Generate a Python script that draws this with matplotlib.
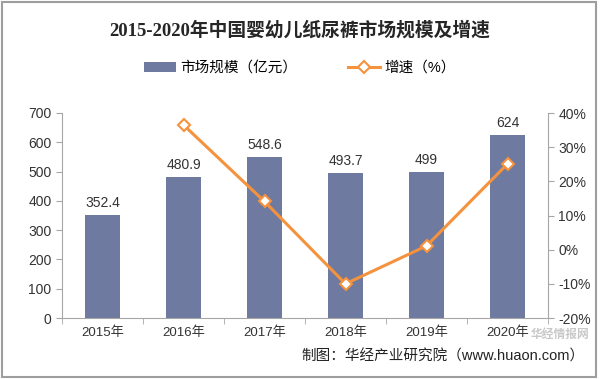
import matplotlib.pyplot as plt
import numpy as np

# данные
years = ['2015年', '2016年', '2017年', '2018年', '2019年', '2020年']
scale = [352.4, 480.9, 548.6, 493.7, 499, 624]
growth = [np.nan, 36.5, 14.1, -10.0, 1.1, 25.1]
scale_labels = ['352.4', '480.9', '548.6', '493.7', '499', '624']

plt.rcParams['font.family'] = ['Liberation Sans', 'Noto Sans CJK SC', 'DejaVu Sans']

bar_c = '#6E7AA0'
line_c = '#F5923E'
axis_c = '#A6A6A6'

fig = plt.figure(figsize=(6.0, 3.79), dpi=100)
ax = fig.add_axes([62/600, 1-318/379, 486/600, 205/379])
x = np.arange(len(years))

ax.bar(x, scale, width=0.44, color=bar_c, zorder=2, label='市场规模（亿元）')
for xi, v, t in zip(x, scale, scale_labels):
    ax.text(xi, v + 18, t, ha='center', va='bottom', fontsize=10, color='#333333')

ax.set_xlim(-0.5, 5.5)
ax.set_ylim(0, 700)
ax.set_yticks(range(0, 701, 100))
ax.set_xticks(x)
ax.set_xticklabels(years, fontsize=9.5, color='#333333')
ax.set_xticks(np.arange(-0.5, 6, 1), minor=True)
ax.tick_params(axis='x', which='major', length=0, pad=6)
ax.tick_params(axis='x', which='minor', length=4, color=axis_c, direction='out')
ax.tick_params(axis='y', length=4, color=axis_c, labelsize=10, labelcolor='#333333')
for s in ['top', 'right']:
    ax.spines[s].set_visible(False)
ax.spines['left'].set_color(axis_c)
ax.spines['bottom'].set_color(axis_c)

ax2 = ax.twinx()
ax2.plot(x, growth, color=line_c, lw=2.2, marker='D', ms=6,
         mfc='white', mec=line_c, mew=1.5, zorder=3, label='增速（%）')
ax2.set_ylim(-20, 40)
ax2.set_yticks(range(-20, 41, 10))
ax2.set_yticklabels([f'{v}%' for v in range(-20, 41, 10)])
ax2.tick_params(axis='y', length=4, color=axis_c, labelsize=10, labelcolor='#333333')
for s in ['top', 'left', 'bottom']:
    ax2.spines[s].set_visible(False)
ax2.spines['right'].set_color(axis_c)

# заголовок и легенда
fig.text(0.5, 1-30/379, '2015-2020年中国婴幼儿纸尿裤市场规模及增速', ha='center', va='center',
         fontsize=13.5, fontweight='bold', color='#262626',
         family=['Liberation Serif', 'Noto Sans CJK SC'])
h1, l1 = ax.get_legend_handles_labels()
h2, l2 = ax2.get_legend_handles_labels()
fig.legend(h1 + h2, l1 + l2, loc='center', bbox_to_anchor=(0.5, 1-68/379), ncol=2,
           frameon=False, fontsize=10.5, handlelength=2.2, columnspacing=3.5,
           handletextpad=0.3)

# водяной знак и источник
fig.text(531/600, 1-335/379, '华经情报网', ha='left', va='center', fontsize=8.5,
         color='#C8C8C8', fontweight='bold', zorder=0)
fig.text(0.975, 1-356/379, '制图：华经产业研究院（www.huaon.com）', ha='right', va='center',
         fontsize=10.5, color='#222222')

# рамка
fig.patches.append(plt.Rectangle((0.004, 0.005), 0.99, 0.99, transform=fig.transFigure,
                                 fill=False, edgecolor='#9E9E9E', lw=1.5))

plt.savefig('out.png', dpi=100)
